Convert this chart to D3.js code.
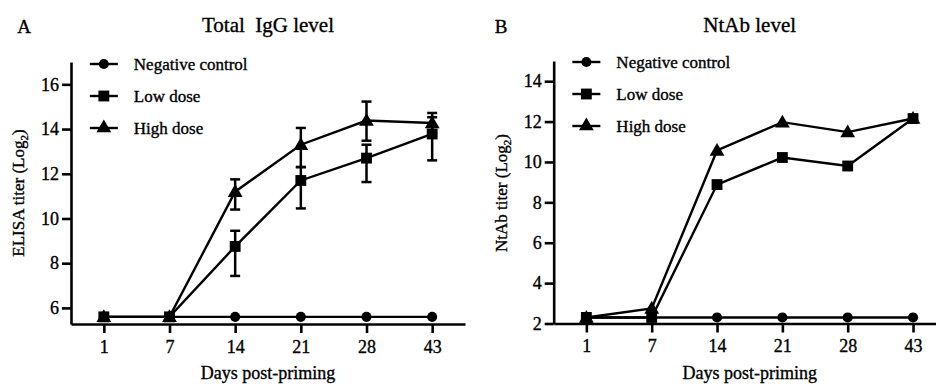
<!DOCTYPE html>
<html>
<head>
<meta charset="utf-8">
<script src="https://cdn.jsdelivr.net/npm/d3@7/dist/d3.min.js"></script>
<style>
  html, body { margin: 0; padding: 0; background: #fff; }
  svg { display: block; font-family: 'Liberation Serif', 'Times New Roman', serif; }
  svg text { stroke: #000; stroke-width: 0.35px; }
</style>
</head>
<body>
<div id="chart"></div>
<script>
// Categories (days post-priming)
const days = ['1', '7', '14', '21', '28', '43'];
const seriesNames = ['Negative control', 'Low dose', 'High dose'];
const seriesSymbols = ['circle', 'square', 'triangle'];

// Panel A: total IgG (log2)
const iggNegative = [5.6, 5.6, 5.6, 5.6, 5.6, 5.6];
const iggLow = [5.6, 5.6, 8.75, 11.7, 12.7, 13.78];
const iggLowErrUp = [0, 0, 0.7, 0.6, 0.6, 0.75];
const iggLowErrDown = [0, 0, 1.32, 1.25, 1.07, 1.18];
const iggHigh = [5.6, 5.6, 11.2, 13.3, 14.38, 14.27];
const iggHighErrUp = [0, 0, 0.55, 0.75, 0.85, 0.45];
const iggHighErrDown = [0, 0, 0.8, 1.0, 0.9, 0.5];
const iggTicks = [6, 8, 10, 12, 14, 16];

// Panel B: NtAb (log2)
const ntabNegative = [2.3, 2.3, 2.3, 2.3, 2.3, 2.3];
const ntabLow = [2.3, 2.3, 8.88, 10.22, 9.8, 12.15];
const ntabHigh = [2.3, 2.75, 10.57, 11.97, 11.48, 12.15];
const ntabTicks = [2, 4, 6, 8, 10, 12, 14];

const SERIF = 'Liberation Serif';
const W = 936, H = 385;
const svg = d3.select('#chart').append('svg')
  .attr('width', W)
  .attr('height', H);

const symbolGen = {
  circle: d3.symbol().type(d3.symbolCircle).size(80),
  square: d3.symbol().type(d3.symbolSquare).size(118),
  triangle: d3.symbol().type(d3.symbolTriangle).size(95)
};

function drawPanel(p) {
  const g = svg.append('g');

  const x = d3.scalePoint()
    .domain(days)
    .range([p.left, p.right])
    .padding(0.5);

  const y = d3.scaleLinear()
    .domain(p.yDomain)
    .range([p.bottom, p.top]);

  // Panel letter and title
  g.append('text')
    .attr('x', p.letterX)
    .attr('y', 33)
    .attr('font-size', 19)
    .attr('text-anchor', 'middle')
    .text(p.letter);

  g.append('text')
    .attr('x', (p.left + p.right) / 2)
    .attr('y', 32)
    .attr('font-size', 21)
    .attr('text-anchor', 'middle')
    .style('white-space', 'pre')
    .text(p.title);

  // Axes
  const yAxis = g.append('g')
    .attr('transform', `translate(${p.left},0)`)
    .call(d3.axisLeft(y).tickValues(p.ticks).tickSize(9).tickSizeOuter(0).tickPadding(3));

  const xAxis = g.append('g')
    .attr('transform', `translate(0,${p.bottom})`)
    .call(d3.axisBottom(x).tickSize(9).tickSizeOuter(0).tickPadding(7));

  [yAxis, xAxis].forEach(a => {
    a.attr('font-family', SERIF).attr('font-size', 18);
    a.select('.domain').attr('stroke', '#000').attr('stroke-width', 2.6);
    a.selectAll('.tick line').attr('stroke', '#000').attr('stroke-width', 2.6);
    a.selectAll('.tick text')
      .attr('fill', '#000')
      .attr('font-family', SERIF);
  });

  // Axis titles
  const yl = g.append('text')
    .attr('transform', `translate(${p.yLabelX},${p.yLabelY}) rotate(-90)`)
    .attr('text-anchor', 'middle')
    .attr('font-size', 17);
  yl.append('tspan').text(p.yLabel + ' (Log');
  yl.append('tspan').attr('font-size', 11).attr('dy', 4).text('2');
  yl.append('tspan').attr('dy', -4).text(')');

  g.append('text')
    .attr('x', (p.left + p.right) / 2)
    .attr('y', 379)
    .attr('text-anchor', 'middle')
    .attr('font-size', 18)
    .text('Days post-priming');

  // Series (negative, high, low so that squares stay on top)
  const order = [0, 2, 1];
  const line = d3.line()
    .x((d, i) => x(days[i]))
    .y(d => y(d));

  order.forEach(si => {
    const s = p.series[si];
    g.append('path')
      .datum(s.values)
      .attr('fill', 'none')
      .attr('stroke', '#000')
      .attr('stroke-width', 2.4)
      .attr('d', line);
  });

  order.forEach(si => {
    const s = p.series[si];
    if (s.errUp) {
      const eb = g.append('g');
      s.values.forEach((v, i) => {
        const up = s.errUp[i], down = s.errDown[i];
        if (!up && !down) return;
        const cx = x(days[i]);
        eb.append('line')
          .attr('x1', cx).attr('x2', cx)
          .attr('y1', y(v + up)).attr('y2', y(v - down))
          .attr('stroke', '#000').attr('stroke-width', 2.5);
        [v + up, v - down].forEach(e => {
          eb.append('line')
            .attr('x1', cx - 5).attr('x2', cx + 5)
            .attr('y1', y(e)).attr('y2', y(e))
            .attr('stroke', '#000').attr('stroke-width', 2.5);
        });
      });
    }
  });

  order.forEach(si => {
    const s = p.series[si];
    g.append('g')
      .selectAll('path')
      .data(s.values)
      .join('path')
      .attr('d', symbolGen[seriesSymbols[si]]())
      .attr('transform', (d, i) => `translate(${x(days[i])},${y(d) + (seriesSymbols[si] === 'triangle' ? 1 : 0)})`)
      .attr('fill', '#000');
  });

  // Legend
  const lx = x(days[0]);
  const legend = g.append('g');
  seriesNames.forEach((name, i) => {
    const ly = p.legendY + i * 32;
    legend.append('line')
      .attr('x1', lx - 14).attr('x2', lx + 14)
      .attr('y1', ly).attr('y2', ly)
      .attr('stroke', '#000').attr('stroke-width', 2.4);
    legend.append('path')
      .attr('d', symbolGen[seriesSymbols[i]]())
      .attr('transform', `translate(${lx},${ly})`)
      .attr('fill', '#000');
    legend.append('text')
      .attr('x', lx + 30)
      .attr('y', ly)
      .attr('dy', '0.35em')
      .attr('font-size', 17)
      .text(name);
  });
}

drawPanel({
  letter: 'A', letterX: 24,
  title: 'Total  IgG level',
  left: 71, right: 465, top: 62, bottom: 324,
  yDomain: [5.28, 17],
  ticks: iggTicks,
  yLabel: 'ELISA titer', yLabelX: 24, yLabelY: 193,
  legendY: 64,
  series: [
    { values: iggNegative },
    { values: iggLow, errUp: iggLowErrUp, errDown: iggLowErrDown },
    { values: iggHigh, errUp: iggHighErrUp, errDown: iggHighErrDown }
  ]
});

drawPanel({
  letter: 'B', letterX: 501,
  title: 'NtAb level',
  left: 553.7, right: 945.7, top: 61, bottom: 323.5,
  yDomain: [2, 15],
  ticks: ntabTicks,
  yLabel: 'NtAb titer', yLabelX: 507, yLabelY: 193,
  legendY: 62,
  series: [
    { values: ntabNegative },
    { values: ntabLow },
    { values: ntabHigh }
  ]
});
</script>
</body>
</html>
